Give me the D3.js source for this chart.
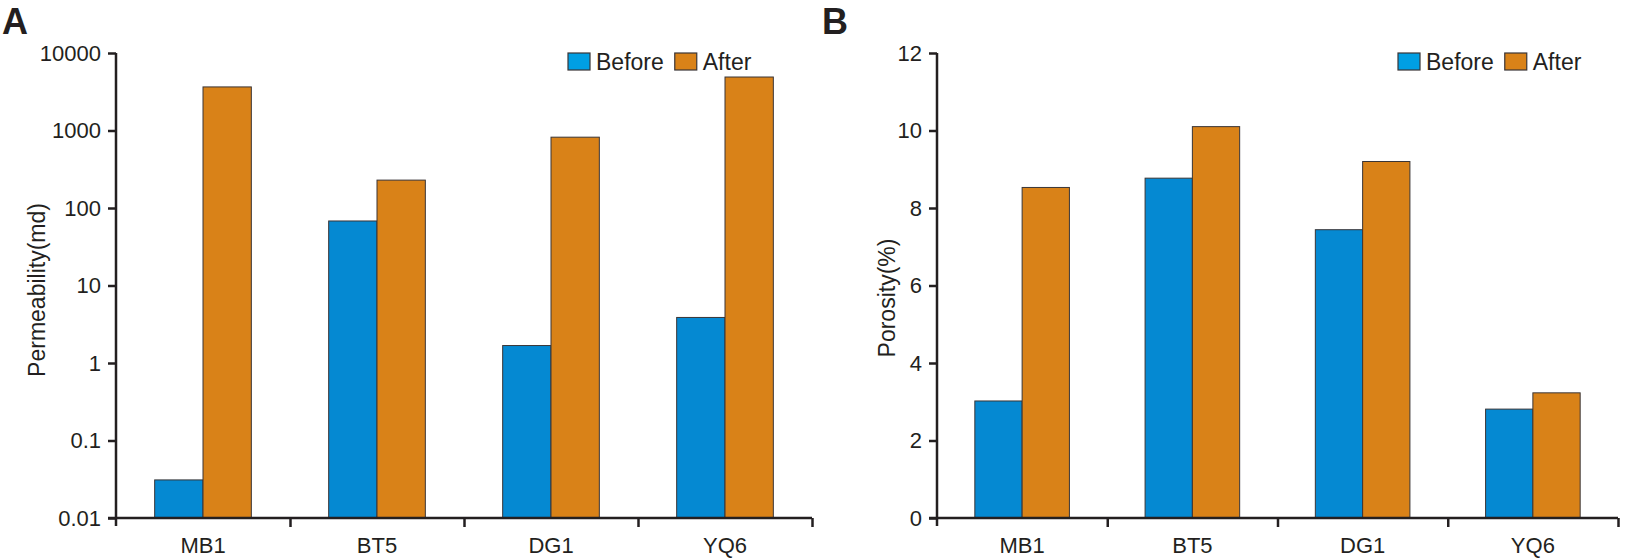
<!DOCTYPE html>
<html>
<head>
<meta charset="utf-8">
<script src="https://cdn.jsdelivr.net/npm/d3@7/dist/d3.min.js"></script>
<style>
  body { margin: 0; background: #fff; }
  text { font-family: "Liberation Sans", Arial, sans-serif; fill: #231f20; }
</style>
</head>
<body>
<svg id="chart" width="1625" height="558"></svg>
<script>
// data
const wells = ['MB1', 'BT5', 'DG1', 'YQ6']
const series = ['Before', 'After']
const permBefore = [0.031, 68, 1.68, 3.87]
const permAfter = [3650, 229, 820, 4900]
const poroBefore = [3.02, 8.77, 7.44, 2.81]
const poroAfter = [8.53, 10.1, 9.2, 3.23]
const permTicks = [0.01, 0.1, 1, 10, 100, 1000, 10000]
const poroTicks = [0, 2, 4, 6, 8, 10, 12]

const colors = { Before: '#0589d2', After: '#d98218' }
const legendColors = { Before: '#009fe3', After: '#d98218' }
const axisColor = '#231f20'

const svg = d3.select('#chart')

function drawPanel(opt) {
  const g = svg.append('g')
  const x = d3.scaleBand().domain(wells).range([opt.left, opt.right])
  const sub = d3.scaleBand().domain(series).range([0, x.bandwidth()]).paddingOuter(0.8)
  const y = opt.y

  // bars
  const rows = wells.map((w, i) => ({ well: w, Before: opt.before[i], After: opt.after[i] }))
  const groups = g.selectAll('.grp').data(rows).enter().append('g')
    .attr('transform', (d) => `translate(${x(d.well)},0)`)
  groups.selectAll('rect')
    .data((d) => series.map((s) => ({ s, v: d[s] })))
    .enter().append('rect')
    .attr('x', (d) => sub(d.s))
    .attr('width', sub.bandwidth())
    .attr('y', (d) => y(d.v))
    .attr('height', (d) => opt.bottom - y(d.v))
    .attr('fill', (d) => colors[d.s])
    .attr('stroke', '#3a3536')
    .attr('stroke-width', 1)

  // left axis
  const yAxis = d3.axisLeft(y).tickValues(opt.ticks).tickFormat(opt.fmt)
    .tickSize(8).tickSizeOuter(0).tickPadding(7)
  const ya = g.append('g').attr('transform', `translate(${opt.left},0)`).call(yAxis)
  ya.selectAll('path, line').attr('stroke', axisColor).attr('stroke-width', 2.5)
  ya.selectAll('text').style('font-size', '22px').attr('fill', axisColor)
  ya.select('.domain').attr('d', `M0,${opt.bottom + 8}V${opt.top}`)

  // bottom axis: labels at band centres, tick marks at band edges
  const xAxis = d3.axisBottom(x).tickSize(0).tickPadding(19)
  const xa = g.append('g').attr('transform', `translate(0,${opt.bottom})`).call(xAxis)
  xa.select('.domain').attr('stroke', axisColor).attr('stroke-width', 2.5)
    .attr('d', `M${opt.left - 8},0H${opt.right}`)
  xa.selectAll('text').style('font-size', '22px').attr('fill', axisColor)

  const edge = d3.scaleLinear().domain([0, wells.length]).range([opt.left, opt.right])
  const ea = g.append('g').attr('transform', `translate(0,${opt.bottom})`)
    .call(d3.axisBottom(edge).tickValues([1, 2, 3, 4]).tickFormat('').tickSize(9).tickSizeOuter(0))
  ea.select('.domain').remove()
  ea.selectAll('line').attr('stroke', axisColor).attr('stroke-width', 2.5)

  // y title
  g.append('text')
    .attr('transform', `translate(${opt.titleX},${opt.titleY}) rotate(-90)`)
    .attr('text-anchor', 'middle')
    .style('font-size', '23px')
    .text(opt.title)

  // panel letter
  g.append('text')
    .attr('x', opt.letterX).attr('y', 34)
    .style('font-size', '36px').style('font-weight', 'bold')
    .attr('fill', '#000')
    .text(opt.letter)

  // legend
  const lg = g.append('g').attr('transform', `translate(${opt.legendX},53)`)
  let lx = 0
  series.forEach((s) => {
    lg.append('rect').attr('x', lx).attr('y', 0).attr('width', 22).attr('height', 17)
      .attr('fill', legendColors[s]).attr('stroke', '#3a3536').attr('stroke-width', 1.2)
    const t = lg.append('text').attr('x', lx + 28).attr('y', 17)
      .style('font-size', '23px').text(s)
    lx += 28 + t.node().getComputedTextLength() + 11
  })
}

drawPanel({
  left: 116, right: 812, top: 53, bottom: 518,
  y: d3.scaleLog().domain([0.01, 10000]).range([518, 53]),
  ticks: permTicks, fmt: (d) => String(d),
  before: permBefore, after: permAfter,
  title: 'Permeability(md)', titleX: 45, titleY: 290,
  letter: 'A', letterX: 2, legendX: 568
})

drawPanel({
  left: 937, right: 1618, top: 53, bottom: 518,
  y: d3.scaleLinear().domain([0, 12]).range([518, 53]),
  ticks: poroTicks, fmt: d3.format('d'),
  before: poroBefore, after: poroAfter,
  title: 'Porosity(%)', titleX: 895, titleY: 298,
  letter: 'B', letterX: 822, legendX: 1398
})
</script>
</body>
</html>
